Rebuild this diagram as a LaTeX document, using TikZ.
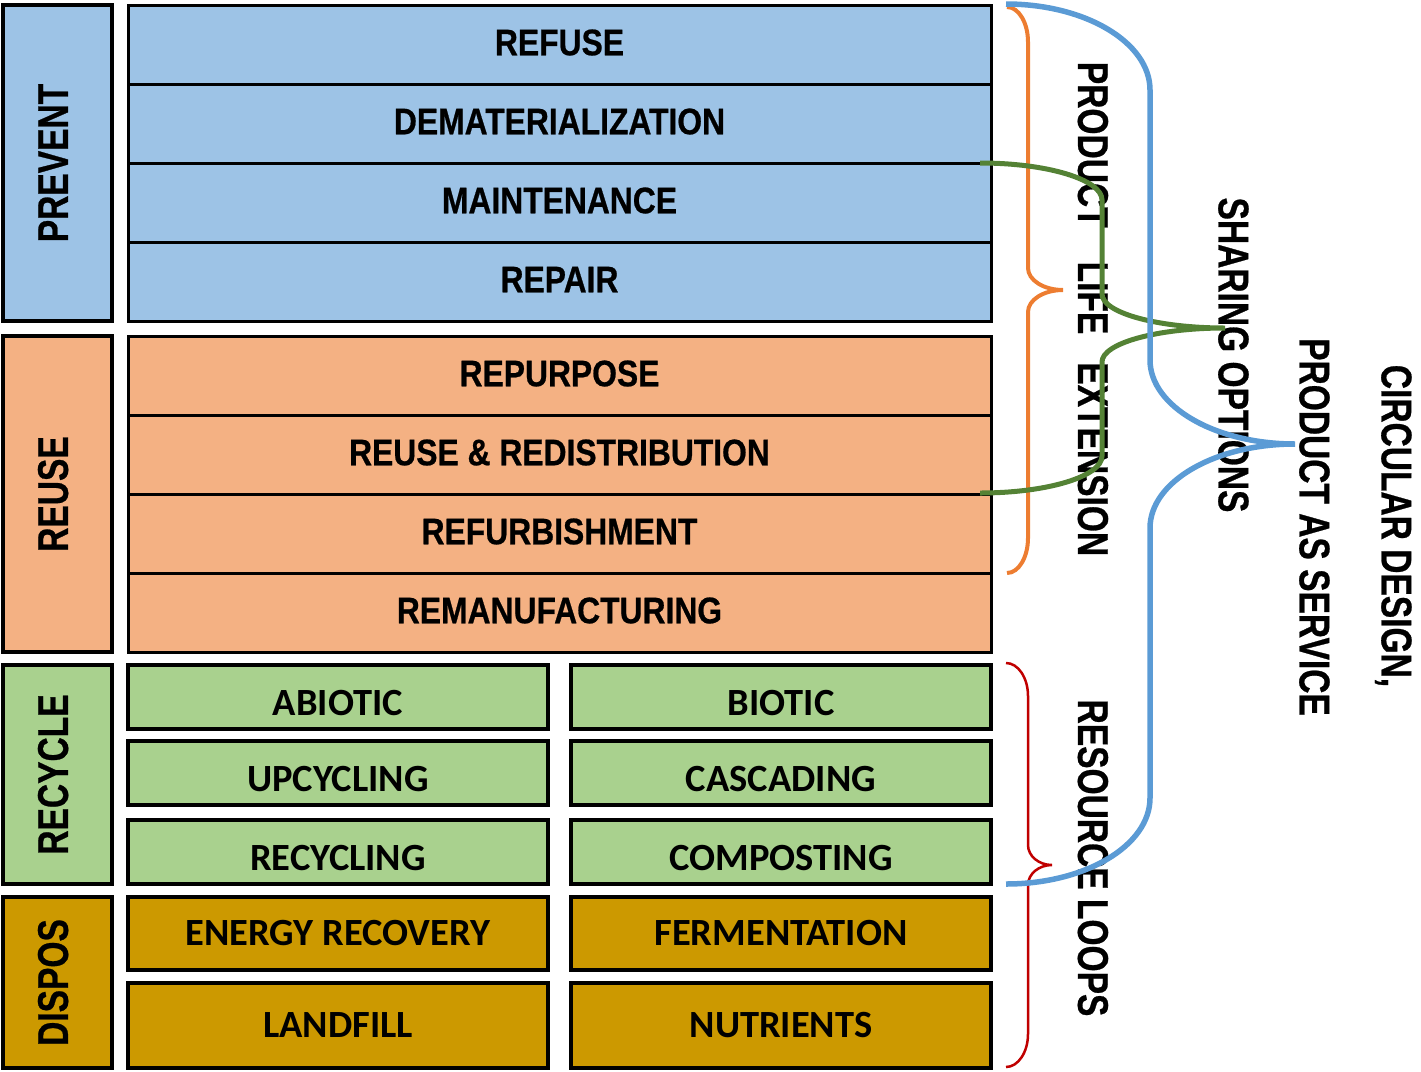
\documentclass[tikz,border=0pt]{standalone}
\usepackage{fontspec}
\setmainfont{Liberation Sans}
\newfontfamily\rowfont{Liberation Sans}[FakeStretch=0.86,FakeBold=0.6]
\newfontfamily\sidefont{Liberation Sans}[FakeStretch=0.78,FakeBold=0.6]
\newfontfamily\labfont{Liberation Sans}[FakeStretch=0.78,FakeBold=0.6]
\newfontfamily\calfont{Carlito}
\definecolor{cblue}{RGB}{157,195,230}
\definecolor{corange}{RGB}{244,177,131}
\definecolor{cgreen}{RGB}{169,209,142}
\definecolor{cgold}{RGB}{204,153,0}
\definecolor{lblue}{RGB}{91,155,213}
\definecolor{lorange}{RGB}{237,125,49}
\definecolor{lgreen}{RGB}{84,130,53}
\definecolor{lred}{RGB}{192,0,0}
% #1 style, #2 name, #3 x1, #4 y1, #5 x2, #6 y2, #7 text
\newcommand\cellbox[7]{\node[#1, minimum width={#5-#3}, minimum height={#6-#4}] (#2) at ({(#3+#5)/2},{(#4+#6)/2}) {#7};}
\newcommand\sidebox[7]{\node[#1, minimum width={#6-#4}, minimum height={#5-#3}] (#2) at ({(#3+#5)/2},{(#4+#6)/2}) {#7};}
% #1 style, #2 x0, #3 ytop, #4 ybot, #5 x arm, #6 x tip, #7 r end, #8 r mid, #9 name
\newcommand\curlybrace[9]{%
  \pgfmathsetmacro\bym{(#3+#4)/2}%
  \pgfmathsetmacro\bka{#2+0.552*(#5-#2)}%
  \pgfmathsetmacro\bkb{#5+0.448*(#6-#5)}%
  \coordinate (#9-top) at (#2,#3);
  \coordinate (#9-bot) at (#2,#4);
  \coordinate (#9-tip) at (#6,\bym);
  \draw[#1] (#9-top) .. controls (\bka,#3) and (#5,{#3+0.448*#7}) .. (#5,{#3+#7})
    -- (#5,{\bym-#8}) .. controls (#5,{\bym-0.448*#8}) and (\bkb,\bym) .. (#9-tip)
    .. controls (\bkb,\bym) and (#5,{\bym+0.448*#8}) .. (#5,{\bym+#8})
    -- (#5,{#4-#7}) .. controls (#5,{#4-0.448*#7}) and (\bka,#4) .. (#9-bot);
}
\tikzset{
  cell/.style={draw=black, line width=3pt, inner sep=0pt, outer sep=0pt, text=black},
  rowcell/.style={cell, font={\rowfont\bfseries\fontsize{37}{40}\selectfont}, text height=26.5pt, text depth=5pt},
  sidecell/.style={cell, line width=3.5pt, rotate=90, font={\sidefont\bfseries\fontsize{43}{48}\selectfont}, text height=30.8pt, text depth=10pt},
  greencell/.style={cell, line width=4pt, fill=cgreen, font={\calfont\bfseries\fontsize{38.5}{42}\selectfont}, text height=36pt, text depth=0pt},
  goldcell/.style={cell, line width=4pt, fill=cgold, font={\calfont\bfseries\fontsize{38.5}{42}\selectfont}, text height=24.3pt, text depth=0pt},
  biglab/.style={rotate=-90, inner sep=0pt, font={\labfont\bfseries\fontsize{43}{48}\selectfont}, text height=30.8pt, text depth=0pt},
  bbrace/.style={draw=lblue, line width=5.5pt},
  obrace/.style={draw=lorange, line width=4pt},
  gbrace/.style={draw=lgreen, line width=5pt},
  rbrace/.style={draw=lred, line width=2.5pt},
}
\begin{document}
\begin{tikzpicture}[x=1pt,y=-1pt]
\useasboundingbox (0,0) rectangle (1421,1071);
% left category boxes
\sidebox{sidecell, fill=cblue}{prevent}{3}{5}{112}{321}{PREVENT}
\sidebox{sidecell, fill=corange}{reuse}{3}{336}{112}{652}{REUSE}
\sidebox{sidecell, fill=cgreen}{recycle}{3}{665}{112}{884}{RECYCLE}
\sidebox{sidecell, fill=cgold}{dispos}{3}{897}{112}{1068}{DISPOS}
% blue rows
\cellbox{rowcell, fill=cblue}{refuse}{128}{5}{991}{84}{REFUSE}
\cellbox{rowcell, fill=cblue}{demat}{128}{84}{991}{163}{DEMATERIALIZATION}
\cellbox{rowcell, fill=cblue}{maint}{128}{163}{991}{242}{MAINTENANCE}
\cellbox{rowcell, fill=cblue}{repair}{128}{242}{991}{321}{REPAIR}
% orange rows
\cellbox{rowcell, fill=corange}{repurp}{128}{336}{991}{415}{REPURPOSE}
\cellbox{rowcell, fill=corange}{redist}{128}{415}{991}{494}{REUSE \& REDISTRIBUTION}
\cellbox{rowcell, fill=corange}{refurb}{128}{494}{991}{573}{REFURBISHMENT}
\cellbox{rowcell, fill=corange}{reman}{128}{573}{991}{652}{REMANUFACTURING}
% green rows
\cellbox{greencell}{abiotic}{128}{665}{548}{729}{ABIOTIC}
\cellbox{greencell}{biotic}{571}{665}{991}{729}{BIOTIC}
\cellbox{greencell}{upcyc}{128}{741}{548}{805}{UPCYCLING}
\cellbox{greencell}{cascad}{571}{741}{991}{805}{CASCADING}
\cellbox{greencell}{recyc}{128}{820}{548}{884}{RECYCLING}
\cellbox{greencell}{compost}{571}{820}{991}{884}{COMPOSTING}
% gold rows
\cellbox{goldcell}{energy}{128}{897}{548}{970}{ENERGY RECOVERY}
\cellbox{goldcell}{ferment}{571}{897}{991}{970}{FERMENTATION}
\cellbox{goldcell}{landfill}{128}{983}{548}{1068}{LANDFILL}
\cellbox{goldcell}{nutri}{571}{983}{991}{1068}{NUTRIENTS}
% right-hand labels
\node[biglab] (ple) at (1093.5,309) {PRODUCT\hspace{34pt}LIFE\hspace{28pt}EXTENSION};
\node[biglab] (rloops) at (1093.5,858) {RESOURCE LOOPS};
\node[biglab] (share) at (1234,355) {SHARING OPTIONS};
\node[biglab] (paas) at (1315,527) {PRODUCT AS SERVICE};
\node[biglab] (circ) at (1397,526) {CIRCULAR DESIGN,};
% braces
\curlybrace{obrace}{1007}{7}{573}{1028}{1063}{35}{22}{ob}
\curlybrace{rbrace}{1006}{663}{1067}{1028}{1052}{33}{20}{rb}
\curlybrace{gbrace}{980}{163}{493}{1102}{1225}{37}{34}{gb}
\curlybrace{bbrace}{1006}{4}{884}{1150}{1295}{86}{84}{bb}
\end{tikzpicture}
\end{document}
